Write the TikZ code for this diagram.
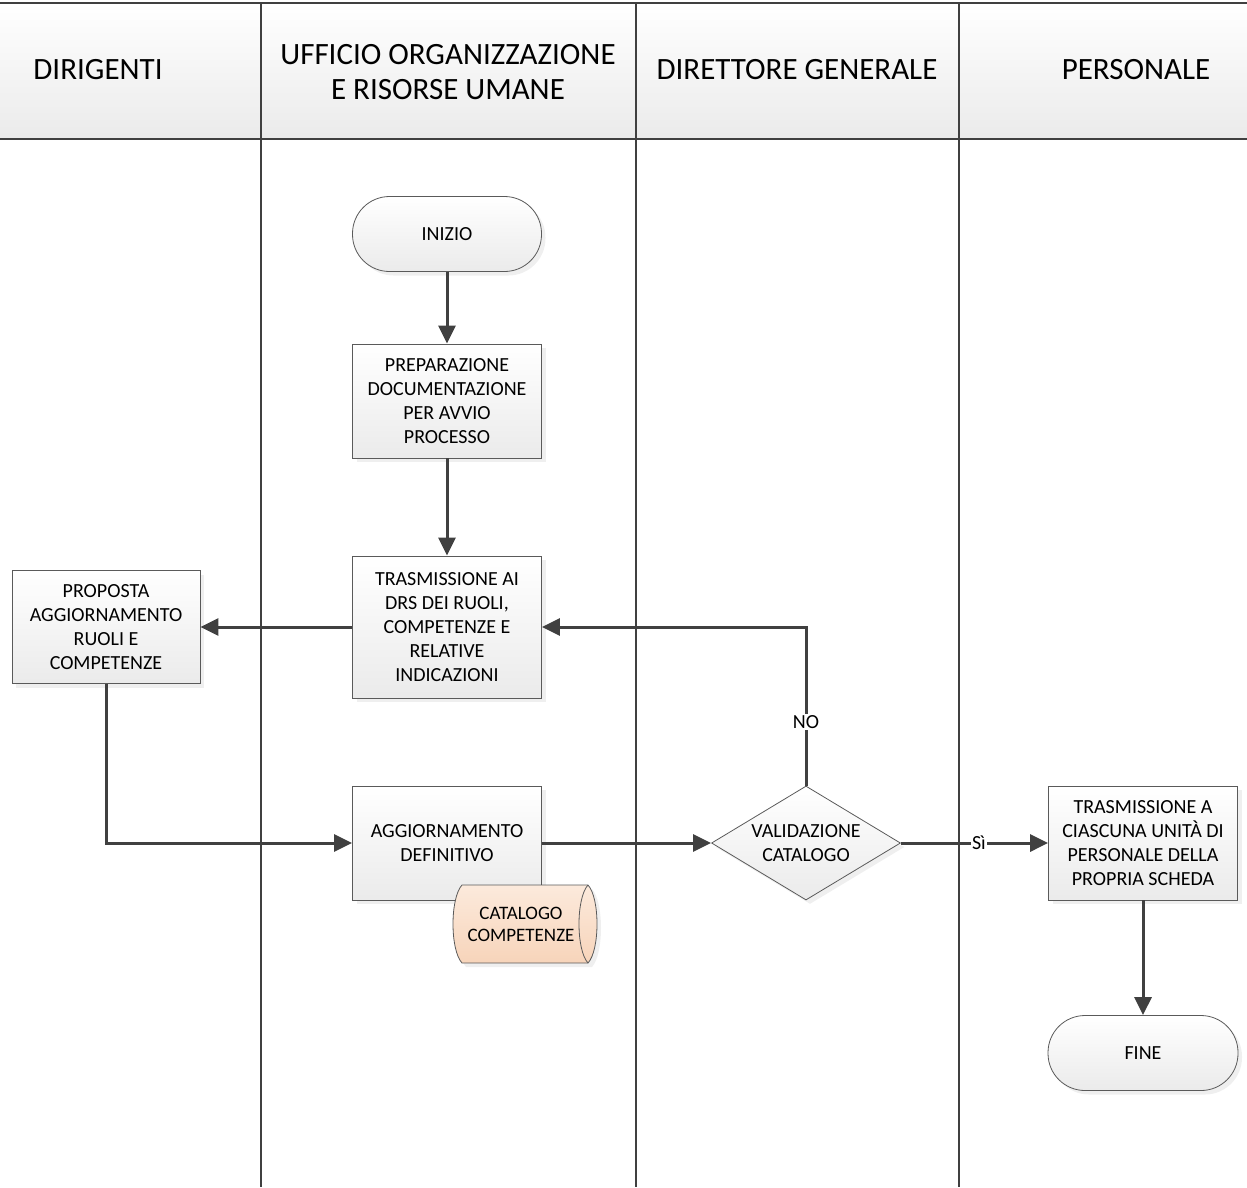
\documentclass[tikz,border=0pt]{standalone}
\usepackage{fontspec}
\setmainfont{Carlito}
\usetikzlibrary{arrows.meta,shapes.geometric,shadows}
\definecolor{linegray}{HTML}{404040}
\definecolor{boxline}{HTML}{5A5A5A}
\definecolor{peachtop}{RGB}{252,234,220}
\definecolor{peachbot}{RGB}{247,212,186}
\tikzset{
	box/.style={draw=boxline,line width=0.8pt,top color=white,bottom color=black!8,drop shadow={shadow xshift=4pt,shadow yshift=-4pt,fill=black!12},align=center,inner sep=0,minimum width=189pt,minimum height=114pt,font=\fontsize{20}{24}\selectfont,text=black},
	term/.style={box,rounded corners=37pt,minimum height=75pt},
	decision/.style={box,diamond,aspect=1.66},
	store/.style={draw=boxline,line width=0.8pt,top color=peachtop,bottom color=peachbot,drop shadow={shadow xshift=4pt,shadow yshift=-4pt,fill=black!12}},
	flow/.style={draw=linegray,line width=3pt,-{Triangle[length=18pt,width=17pt]}},
	lane/.style={draw=linegray,line width=2pt},
	lanetitle/.style={align=center,font=\fontsize{31}{35}\selectfont,text=black},
	answer/.style={fill=white,inner sep=1.5pt,font=\fontsize{20}{24}\selectfont,text=black}
}
\begin{document}
\begin{tikzpicture}[x=1pt,y=-1pt]
	\useasboundingbox (0,0) rectangle (1247,1187);
	\shade[top color=white,bottom color=black!8] (0,3) rectangle (1247,139);
	\draw[lane,line width=2.5pt] (0,3) -- (1247,3) (0,139) -- (1247,139);
	\foreach \x in {261,636,959} \draw[lane] (\x,3) -- (\x,1187);
	\node[lanetitle] (dir) at (98,70) {DIRIGENTI};
	\node[lanetitle] (uff) at (448,72) {UFFICIO ORGANIZZAZIONE\\E RISORSE UMANE};
	\node[lanetitle] (dg) at (797,70) {DIRETTORE GENERALE};
	\node[lanetitle] (pers) at (1136,70) {PERSONALE};
	\node[term] (inizio) at (447,234) {INIZIO};
	\node[box] (prep) at (447,401) {PREPARAZIONE\\DOCUMENTAZIONE\\PER AVVIO\\PROCESSO};
	\node[box,minimum height=142pt] (trasm) at (447,627) {TRASMISSIONE AI\\DRS DEI RUOLI,\\COMPETENZE E\\RELATIVE\\INDICAZIONI};
	\node[box,minimum width=188pt,minimum height=113pt] (prop) at (106,627) {PROPOSTA\\AGGIORNAMENTO\\RUOLI E\\COMPETENZE};
	\node[box] (agg) at (447,843) {AGGIORNAMENTO\\DEFINITIVO};
	\draw[store] (462,885) -- (588,885) .. controls (600,898) and (600,950) .. (588,963) -- (462,963) .. controls (450,950) and (450,898) .. (462,885) -- cycle;
	\draw[boxline,line width=0.8pt] (588,885) .. controls (576,898) and (576,950) .. (588,963);
	\node[align=center,font=\fontsize{19}{22}\selectfont,text=black] (cat) at (521,924) {CATALOGO\\COMPETENZE};
	\node[decision] (valid) at (806,843) {VALIDAZIONE\\CATALOGO};
	\node[box] (invio) at (1143,843) {TRASMISSIONE A\\CIASCUNA UNITÀ DI\\PERSONALE DELLA\\PROPRIA SCHEDA};
	\node[term,minimum width=190pt] (fine) at (1143,1053) {FINE};
	\draw[flow] (inizio) -- (prep);
	\draw[flow] (prep) -- (trasm);
	\draw[flow] (trasm) -- (prop);
	\draw[flow] (prop) |- (agg);
	\draw[flow] (agg) -- (valid);
	\draw[flow] (valid) |- node[answer,pos=0.2]{NO} (trasm);
	\draw[flow] (valid) -- node[answer,pos=0.53]{Sì} (invio);
	\draw[flow] (invio) -- (fine);
\end{tikzpicture}
\end{document}
